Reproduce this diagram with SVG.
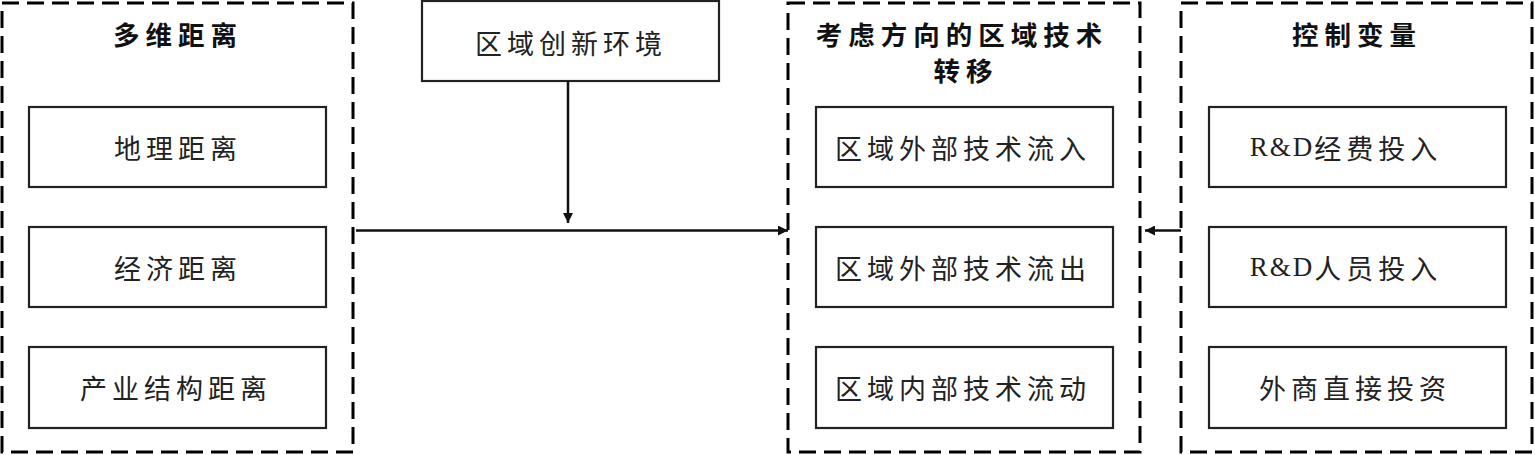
<svg xmlns="http://www.w3.org/2000/svg" width="1535" height="455" viewBox="0 0 1535 455">
<defs>
<marker id="arr" markerWidth="10" markerHeight="10" refX="10" refY="5" orient="auto" markerUnits="userSpaceOnUse">
<path d="M0,0 L10,5 L0,10 Z" fill="#111"/>
</marker>
<style>
.grp{fill:none;stroke:#000;stroke-width:3;stroke-dasharray:17 8}
.box{fill:#fff;stroke:#222;stroke-width:2.2}
.t{font-family:"Noto Sans CJK SC","Liberation Serif",serif;font-size:27px;fill:#222;text-anchor:middle;dominant-baseline:central;letter-spacing:5px}
.r{font-family:"Liberation Serif","Noto Sans CJK SC",serif;letter-spacing:2px}
.h{font-family:"Noto Sans CJK SC",sans-serif;font-size:26.5px;font-weight:bold;fill:#111;text-anchor:middle;dominant-baseline:central;letter-spacing:6px}
.c{stroke:#111;stroke-width:2.5;fill:none}
</style>
</defs>

<g id="group-distance">
<rect class="grp" x="2" y="3" width="351" height="449"/>
<text class="h" x="178" y="33">多维距离</text>
</g>
<g id="node-geo"><rect class="box" x="29" y="107" width="297" height="80"/><text class="t" x="178" y="147">地理距离</text></g>
<g id="node-eco"><rect class="box" x="29" y="227" width="297" height="80"/><text class="t" x="178" y="267">经济距离</text></g>
<g id="node-ind"><rect class="box" x="29" y="347" width="297" height="81"/><text class="t" x="176" y="387">产业结构距离</text></g>

<g id="node-env"><rect class="box" x="422" y="1" width="297" height="80"/><text class="t" x="571" y="42">区域创新环境</text></g>

<g id="group-transfer">
<rect class="grp" x="788" y="3" width="352" height="449"/>
<text class="h" x="962" y="33">考虑方向的区域技术</text>
<text class="h" x="966" y="69">转移</text>
</g>
<g id="node-in"><rect class="box" x="816" y="107" width="297" height="80"/><text class="t" x="963" y="147">区域外部技术流入</text></g>
<g id="node-out"><rect class="box" x="816" y="227" width="297" height="80"/><text class="t" x="963" y="267">区域外部技术流出</text></g>
<g id="node-inner"><rect class="box" x="816" y="347" width="297" height="81"/><text class="t" x="963" y="387">区域内部技术流动</text></g>

<g id="group-control">
<rect class="grp" x="1181" y="3" width="351" height="449"/>
<text class="h" x="1357" y="33">控制变量</text>
</g>
<g id="node-rdf"><rect class="box" x="1209" y="107" width="297" height="80"/><text class="t" x="1346" y="147"><tspan class="r">R&amp;D</tspan>经费投入</text></g>
<g id="node-rdp"><rect class="box" x="1209" y="227" width="297" height="80"/><text class="t" x="1346" y="267"><tspan class="r">R&amp;D</tspan>人员投入</text></g>
<g id="node-fdi"><rect class="box" x="1209" y="347" width="297" height="81"/><text class="t" x="1355" y="387">外商直接投资</text></g>

<g id="connectors">
<line class="c" x1="568" y1="81" x2="568" y2="223" marker-end="url(#arr)"/>
<line class="c" x1="356" y1="230.5" x2="788" y2="230.5" marker-end="url(#arr)"/>
<line class="c" x1="1181" y1="230.5" x2="1145" y2="230.5" marker-end="url(#arr)"/>
</g>
</svg>
